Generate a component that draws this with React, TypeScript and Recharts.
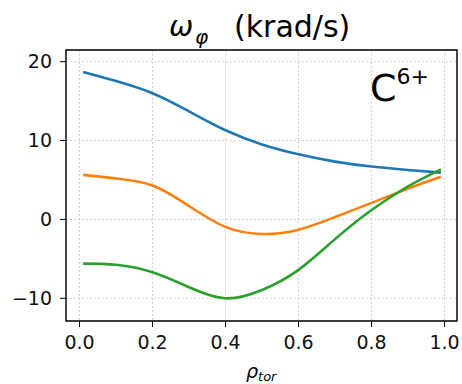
import { LineChart, Line, XAxis, YAxis, CartesianGrid, ReferenceArea } from 'recharts';

// normalised toroidal radius
const rho = [0.01, 0.1, 0.2, 0.3, 0.4, 0.5, 0.6, 0.7, 0.8, 0.9, 0.99];
// C6+ toroidal rotation, krad/s, three cases
const omegaBlue = [18.7, 17.55, 16.0, 13.7, 11.3, 9.5, 8.25, 7.33, 6.7, 6.27, 5.93];
const omegaOrange = [5.65, 5.2, 4.3, 1.7, -0.95, -1.85, -1.3, 0.3, 2.1, 3.9, 5.4];
const omegaGreen = [-5.6, -5.75, -6.7, -8.6, -10.0, -8.95, -6.4, -2.5, 1.2, 4.2, 6.35];

const xTicks = [0, 0.2, 0.4, 0.6, 0.8, 1.0];
const yTicks = [-10, 0, 10, 20];

const X_DOMAIN: [number, number] = [-0.037, 1.034];
const Y_DOMAIN: [number, number] = [-12.88, 21.48];

const rows = rho.map((r, i) => ({
  rho: r,
  blue: omegaBlue[i],
  orange: omegaOrange[i],
  green: omegaGreen[i],
}));

const FONT = '"DejaVu Sans", sans-serif';
const tickStyle = { fontFamily: FONT, fontSize: 19, fill: '#111' };

export default function App() {
  return (
    <div style={{ position: 'absolute', left: 0, top: 0, width: 462, height: 384, background: '#fff' }}>
      <LineChart width={462} height={384} data={rows} margin={{ top: 50, right: 5, bottom: 0, left: 0 }}>
        <CartesianGrid stroke="#c4c4c4" strokeDasharray="1.5 2.5" strokeWidth={1} ticks={xTicks} />
        <XAxis
          dataKey="rho"
          type="number"
          domain={X_DOMAIN}
          allowDataOverflow
          ticks={xTicks}
          tickFormatter={(v: number) => v.toFixed(1)}
          tick={tickStyle}
          tickSize={6}
          tickMargin={9}
          tickLine={{ stroke: '#000' }}
          axisLine={false}
          height={63}
          interval={0}
        />
        <YAxis
          type="number"
          domain={Y_DOMAIN}
          allowDataOverflow
          ticks={yTicks}
          tickFormatter={(v: number) => (v < 0 ? '\u2212' + Math.abs(v) : String(v))}
          tick={tickStyle}
          tickSize={6}
          tickMargin={8}
          tickLine={{ stroke: '#000' }}
          axisLine={false}
          width={66}
          interval={0}
        />
        <Line dataKey="blue" type="natural" stroke="#1f77b4" strokeWidth={2.6} dot={false} isAnimationActive={false} />
        <Line dataKey="orange" type="natural" stroke="#ff7f0e" strokeWidth={2.6} dot={false} isAnimationActive={false} />
        <Line dataKey="green" type="natural" stroke="#2ca02c" strokeWidth={2.6} dot={false} isAnimationActive={false} />
        <ReferenceArea
          x1={X_DOMAIN[0]}
          x2={X_DOMAIN[1]}
          y1={Y_DOMAIN[0]}
          y2={Y_DOMAIN[1]}
          fill="none"
          stroke="#000"
          strokeWidth={1.4}
          ifOverflow="visible"
        />
      </LineChart>
      <svg width={462} height={384} style={{ position: 'absolute', left: 0, top: 0, pointerEvents: 'none' }}>
        <text fontFamily={FONT} fill="#000">
          <tspan x={169} y={36} fontSize={29} fontStyle="italic">ω</tspan>
          <tspan x={195} y={44} fontSize={20} fontStyle="italic">φ</tspan>
          <tspan x={234} y={37} fontSize={30}>(krad/s)</tspan>
        </text>
        <text x={370} y={101} fontFamily={FONT} fontSize={38} fill="#000">
          C<tspan fontSize={22} dy={-17}>6+</tspan>
        </text>
        <text x={246} y={378} fontFamily={FONT} fontSize={19} fill="#000">
          <tspan fontStyle="italic">ρ</tspan>
          <tspan fontStyle="italic" fontSize={13} dy={3}>tor</tspan>
        </text>
      </svg>
    </div>
  );
}
